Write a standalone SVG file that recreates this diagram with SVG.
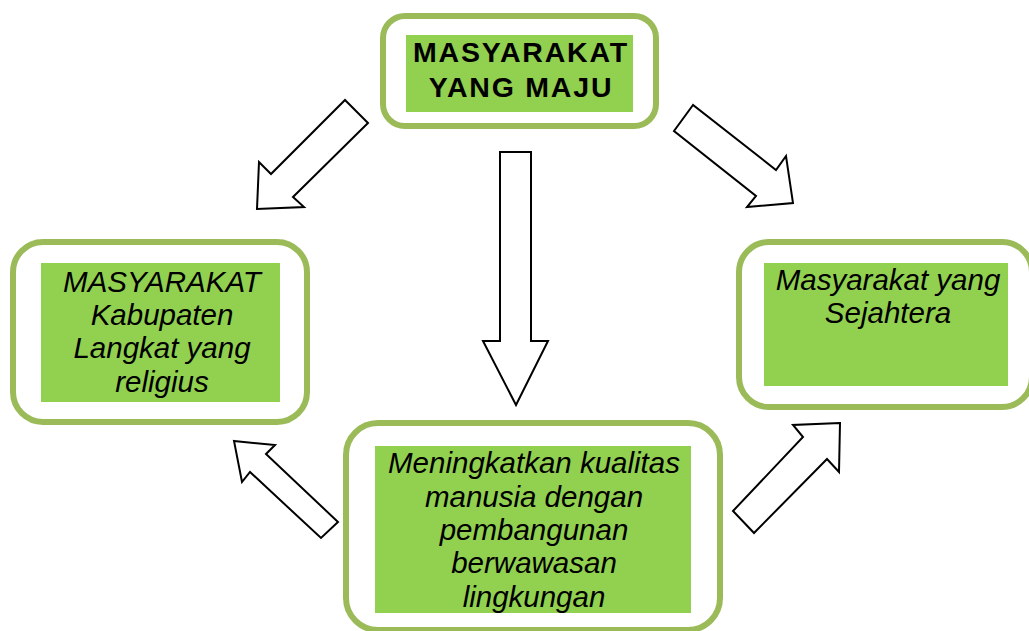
<svg xmlns="http://www.w3.org/2000/svg" width="1029" height="631" viewBox="0 0 1029 631">
<style>
.frame{fill:#ffffff;stroke:#9BBB59;stroke-width:6}
.fill{fill:#92D050}
.t{font-family:"Liberation Sans",Arial,sans-serif;font-size:29.5px;font-style:italic;fill:#000;text-anchor:middle}
.b{font-family:"Liberation Sans",Arial,sans-serif;font-size:28.5px;font-weight:bold;fill:#000;text-anchor:middle;letter-spacing:1.8px}
.arr{fill:#ffffff;stroke:#000;stroke-width:2;stroke-linejoin:miter}
</style>
<rect width="1029" height="631" fill="#ffffff"/>
<g id="connectors">
<polygon class="arr" points="345,100 368,123 293,197 304,207 257,209 259,162 271,174"/>
<polygon class="arr" points="693,105 674,131 756,196 747,207 793,203 786,156 776,170"/>
<polygon class="arr" points="500,152 531,152 531,341 548,341 516,405 483,341 500,341"/>
<polygon class="arr" points="234,441 275,445 266,454 338,522 321,538 250,472 242,482"/>
<polygon class="arr" points="840,423 793,425 803,437 733,511 754,533 827,459 839,472"/>
</g>
<g id="node-top">
<rect class="frame" x="383" y="16" width="273" height="110" rx="22"/>
<rect class="fill" x="406" y="35" width="227" height="77"/>
<text class="b" x="521" y="62">MASYARAKAT</text>
<text class="b" x="521" y="97">YANG MAJU</text>
</g>
<g id="node-left">
<rect class="frame" x="13" y="242" width="294" height="180" rx="30"/>
<rect class="fill" x="41" y="263" width="239" height="139"/>
<text class="t" x="162" y="292">MASYARAKAT</text>
<text class="t" x="162" y="325">Kabupaten</text>
<text class="t" x="162" y="358">Langkat yang</text>
<text class="t" x="162" y="392">religius</text>
</g>
<g id="node-right">
<rect class="frame" x="739" y="242" width="293" height="165" rx="30"/>
<rect class="fill" x="764" y="263" width="244" height="123"/>
<text class="t" x="888" y="290">Masyarakat yang</text>
<text class="t" x="888" y="323">Sejahtera</text>
</g>
<g id="node-bottom">
<rect class="frame" x="346" y="423" width="374" height="207" rx="32"/>
<rect class="fill" x="375" y="446" width="316" height="167"/>
<text class="t" x="534" y="473">Meningkatkan kualitas</text>
<text class="t" x="534" y="507">manusia dengan</text>
<text class="t" x="534" y="540">pembangunan</text>
<text class="t" x="534" y="573">berwawasan</text>
<text class="t" x="534" y="607">lingkungan</text>
</g>
</svg>
